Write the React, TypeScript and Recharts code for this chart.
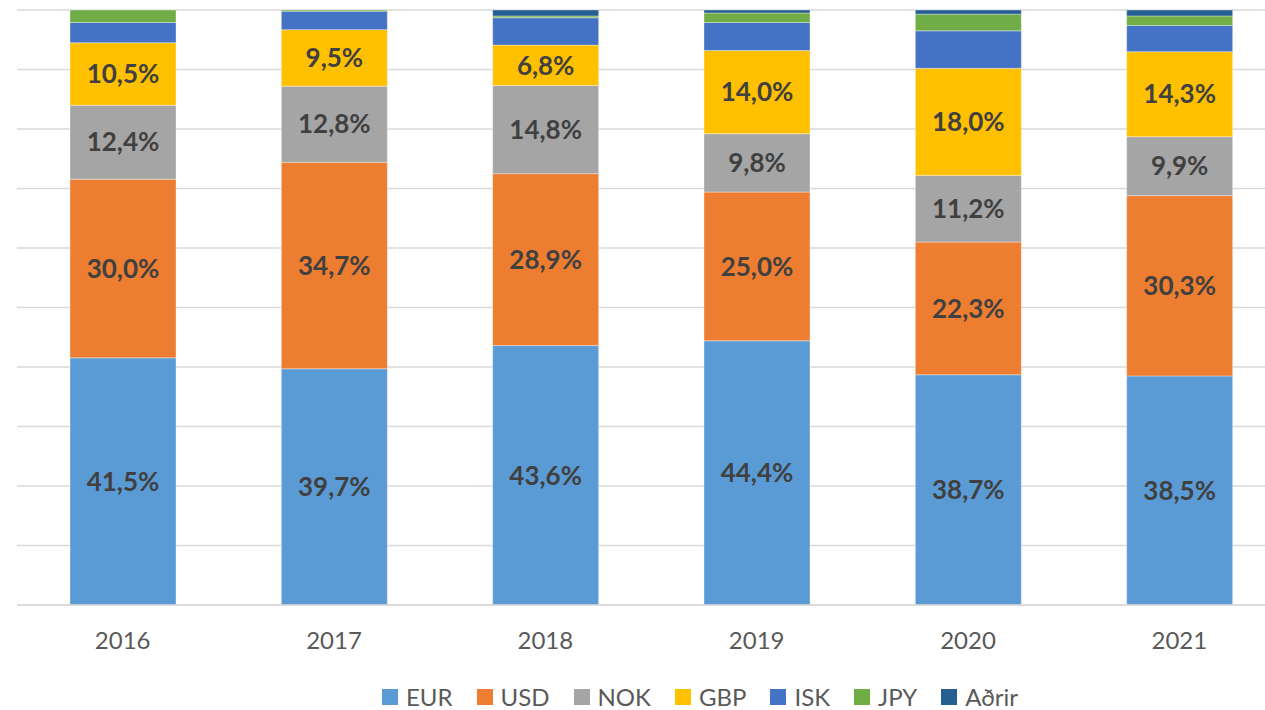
import React from 'react';
import { BarChart, Bar, XAxis, YAxis, CartesianGrid, LabelList, Legend } from 'recharts';

const categories = ['2016', '2017', '2018', '2019', '2020', '2021'];
const EUR = [41.5, 39.7, 43.6, 44.4, 38.7, 38.5];
const USD = [30.0, 34.7, 28.9, 25.0, 22.3, 30.3];
const NOK = [12.4, 12.8, 14.8, 9.8, 11.2, 9.9];
const GBP = [10.5, 9.5, 6.8, 14.0, 18.0, 14.3];
const ISK = [3.4, 3.1, 4.6, 4.7, 6.3, 4.4];
const JPY = [2.1, 0.2, 0.3, 1.6, 2.8, 1.6];
const ADRIR = [0.0, 0.0, 1.0, 0.5, 0.7, 1.0];

const seriesNames = ['EUR', 'USD', 'NOK', 'GBP', 'ISK', 'JPY', 'Aðrir'];
const seriesValues = [EUR, USD, NOK, GBP, ISK, JPY, ADRIR];
const seriesColors = ['#5B9BD5', '#ED7D31', '#A5A5A5', '#FFC000', '#4472C4', '#70AD47', '#255E91'];
const labelledSeries = ['EUR', 'USD', 'NOK', 'GBP'];
const yTicks = [0, 0.1, 0.2, 0.3, 0.4, 0.5, 0.6, 0.7, 0.8, 0.9, 1];

const data = categories.map((year, i) => {
  const row: Record<string, string | number> = { year };
  seriesNames.forEach((name, s) => {
    row[name] = seriesValues[s][i];
  });
  return row;
});

const FONT = 'Lato, "Open Sans", sans-serif';

const formatPct = (v: any) => `${Number(v).toFixed(1).replace('.', ',')}%`;

const LegendContent = () => (
  <div
    style={{
      display: 'flex',
      justifyContent: 'center',
      alignItems: 'center',
      height: 30,
      fontFamily: FONT,
      fontSize: 24,
      color: '#595959',
    }}
  >
    {seriesNames.map((name, i) => (
      <div key={name} style={{ display: 'flex', alignItems: 'center', marginRight: i < seriesNames.length - 1 ? 24 : 0 }}>
        <span style={{ display: 'inline-block', width: 16, height: 16, background: seriesColors[i], marginRight: 8 }} />
        <span style={{ lineHeight: '30px' }}>{name}</span>
      </div>
    ))}
  </div>
);

export default function App() {
  return (
    <div style={{ position: 'absolute', left: 0, top: 0, width: 1265, height: 710, overflow: 'hidden', background: '#fff' }}>
      <BarChart
        width={1300}
        height={710}
        data={data}
        stackOffset="expand"
        margin={{ top: 10, right: 15, left: 17, bottom: 15 }}
        barSize={106}
      >
        <CartesianGrid vertical={false} stroke="#D9D9D9" strokeWidth={1.5} />
        <XAxis
          dataKey="year"
          height={60}
          tickLine={false}
          tickSize={0}
          tickMargin={27}
          axisLine={{ stroke: '#D9D9D9', strokeWidth: 1.5 }}
          tick={{ fill: '#595959', fontSize: 24, fontFamily: FONT }}
        />
        <YAxis hide domain={[0, 1]} ticks={yTicks} />
        <Legend
          verticalAlign="bottom"
          content={<LegendContent />}
          wrapperStyle={{ position: 'absolute', left: 0, width: 1400, top: 682, height: 30 }}
        />
        {seriesNames.map((name, i) => (
          <Bar
            key={name}
            dataKey={name}
            stackId="a"
            fill={seriesColors[i]}
            stroke="#ffffff"
            strokeOpacity={0.35}
            strokeWidth={1}
            isAnimationActive={false}
          >
            {labelledSeries.includes(name) && (
              <LabelList
                dataKey={name}
                position="center"
                formatter={formatPct}
                fill="#404040"
                style={{ fontFamily: FONT, fontSize: 26, fontWeight: 700 }}
              />
            )}
          </Bar>
        ))}
      </BarChart>
    </div>
  );
}
